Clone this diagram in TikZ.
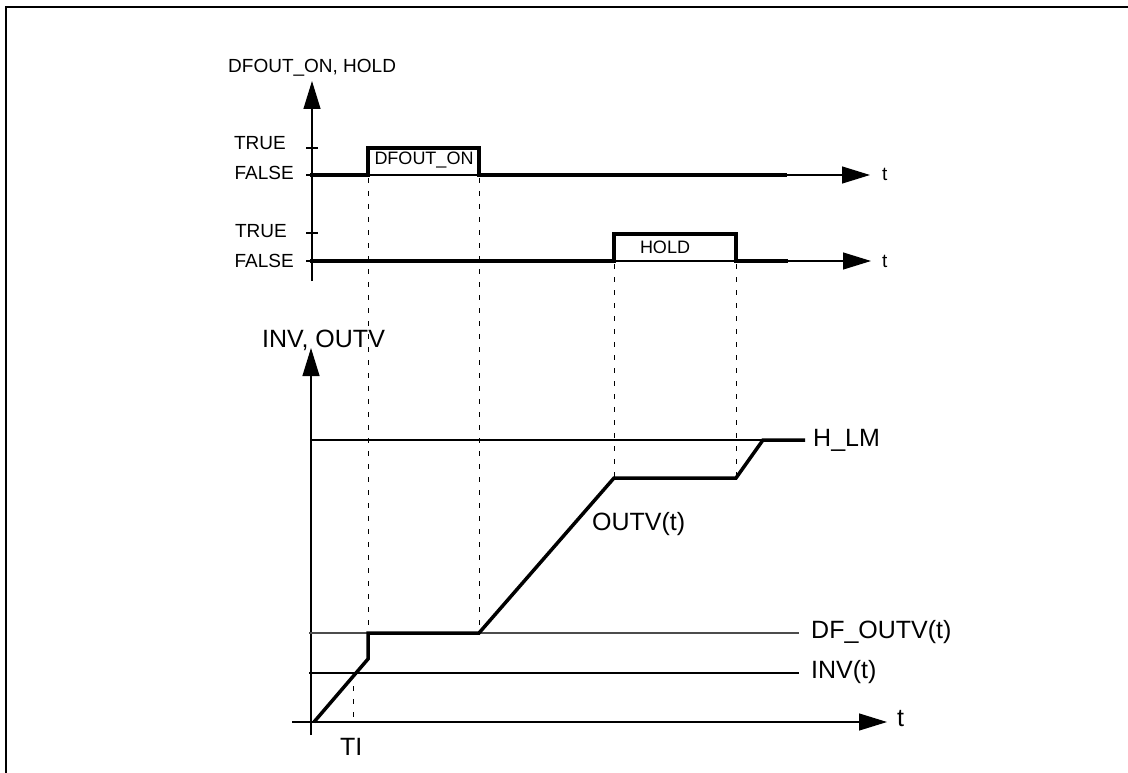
\documentclass[tikz,border=0pt]{standalone}
\usepackage{fontspec}
\setmainfont{Liberation Sans}
\usetikzlibrary{arrows.meta}
\begin{document}
\begin{tikzpicture}[x=1pt,y=-1pt,
  thinline/.style={line width=1.2pt},
  greyline/.style={line width=1.2pt, draw=black!70},
  sig/.style={line width=3.5pt, line join=miter},
  guide/.style={line width=1pt, dash pattern=on 5pt off 8pt},
  axarrow/.style={-{Triangle[length=28pt,width=17pt]}, line width=1.2pt},
  small/.style={font=\fontsize{19}{22}\selectfont, inner sep=0pt},
  pulse/.style={font=\fontsize{18}{21}\selectfont, inner sep=0pt},
  big/.style={font=\fontsize{25}{29}\selectfont, inner sep=0pt}]
\useasboundingbox (0,0) rectangle (1128,773);
% frame (top and left only)
\draw[line width=2pt] (6,773) -- (6,7.5) -- (1128,7.5);

% ---------------- top chart ----------------
\coordinate (A1bot) at (312,281);
\coordinate (A1top) at (312,81);
\draw[axarrow] (A1bot) -- (A1top);
\node[small, anchor=base west] (lblTop) at (228,73) {DFOUT\_ON, HOLD};

% ticks
\coordinate (tk1a) at (306,148); \coordinate (tk1b) at (318,148);
\coordinate (tk2a) at (306,233); \coordinate (tk2b) at (318,233);
\draw[thinline] (tk1a) -- (tk1b);
\draw[thinline] (tk2a) -- (tk2b);
\node[small, anchor=base east] (true1) at (286,150) {TRUE};
\node[small, anchor=base east] (false1) at (294,180) {FALSE};
\node[small, anchor=base east] (true2) at (287,237) {TRUE};
\node[small, anchor=base east] (false2) at (294,267) {FALSE};

% time axes
\coordinate (T1a) at (306,175); \coordinate (T1b) at (870,175);
\coordinate (T2a) at (306,261); \coordinate (T2b) at (871,261);
\draw[axarrow] (T1a) -- (T1b);
\draw[axarrow] (T2a) -- (T2b);
\node[small, anchor=base west] (t1) at (882,181) {t};
\node[small, anchor=base west] (t2) at (882,267) {t};

% signals
\coordinate (d0) at (310,175); \coordinate (d1) at (368,175); \coordinate (d2) at (368,148);
\coordinate (d3) at (479,148); \coordinate (d4) at (479,175); \coordinate (d5) at (787,175);
\draw[sig] (d0) -- (d1) -- (d2) -- (d3) -- (d4) -- (d5);
\node[pulse, anchor=base] (lblDF) at (424,165) {DFOUT\_ON};

\coordinate (h0) at (310,261); \coordinate (h1) at (614,261); \coordinate (h2) at (614,234);
\coordinate (h3) at (736,234); \coordinate (h4) at (736,261); \coordinate (h5) at (788,261);
\draw[sig] (h0) -- (h1) -- (h2) -- (h3) -- (h4) -- (h5);
\node[pulse, anchor=base] (lblHOLD) at (665,253) {HOLD};

% ---------------- bottom chart ----------------
\coordinate (A2bot) at (311,735);
\coordinate (A2top) at (311,348);
\draw[axarrow] (A2bot) -- (A2top);
\node[big, anchor=base west] (lblBot) at (262,347) {INV, OUTV};

\coordinate (T3a) at (292,722); \coordinate (T3b) at (887,722);
\draw[axarrow] (T3a) -- (T3b);
\node[big, anchor=west] (t3) at (897,719) {t};

% levels
\coordinate (HLa) at (311,440); \coordinate (HLb) at (763,440);
\coordinate (DFa) at (309,633); \coordinate (DFb) at (799,633);
\coordinate (INa) at (309,673); \coordinate (INb) at (799,673);
\draw[thinline] (HLa) -- (HLb);
\draw[greyline] (DFa) -- (DFb);
\draw[thinline] (INa) -- (INb);
\node[big, anchor=west] (lblHLM) at (813,440) {H\_LM};
\node[big, anchor=west] (lblDFO) at (811,632) {DF\_OUTV(t)};
\node[big, anchor=west] (lblINV) at (811,672) {INV(t)};

% output curve
\coordinate (o0) at (314,722); \coordinate (o1) at (368,659); \coordinate (o2) at (368,633);
\coordinate (o3) at (479,633); \coordinate (o4) at (614,478); \coordinate (o5) at (736,478);
\coordinate (o6) at (763,440); \coordinate (o7) at (805,440);
\draw[sig] (o0) -- (o1) -- (o2) -- (o3) -- (o4) -- (o5) -- (o6) -- (o7);
\node[big, anchor=base west] (lblOUTV) at (592,530) {OUTV(t)};

% guide lines
\coordinate (g1a) at (368,178); \coordinate (g1b) at (368,633);
\coordinate (g2a) at (479,178); \coordinate (g2b) at (479,633);
\coordinate (g3a) at (614,264); \coordinate (g3b) at (614,478);
\coordinate (g4a) at (736,264); \coordinate (g4b) at (736,478);
\coordinate (g5a) at (353,673); \coordinate (g5b) at (353,722);
\draw[guide] (g1a) -- (g1b);
\draw[guide] (g2a) -- (g2b);
\draw[guide] (g3a) -- (g3b);
\draw[guide] (g4a) -- (g4b);
\draw[guide] (g5a) -- (g5b);
\node[big, anchor=west] (lblTI) at (340,747) {TI};
\end{tikzpicture}
\end{document}
